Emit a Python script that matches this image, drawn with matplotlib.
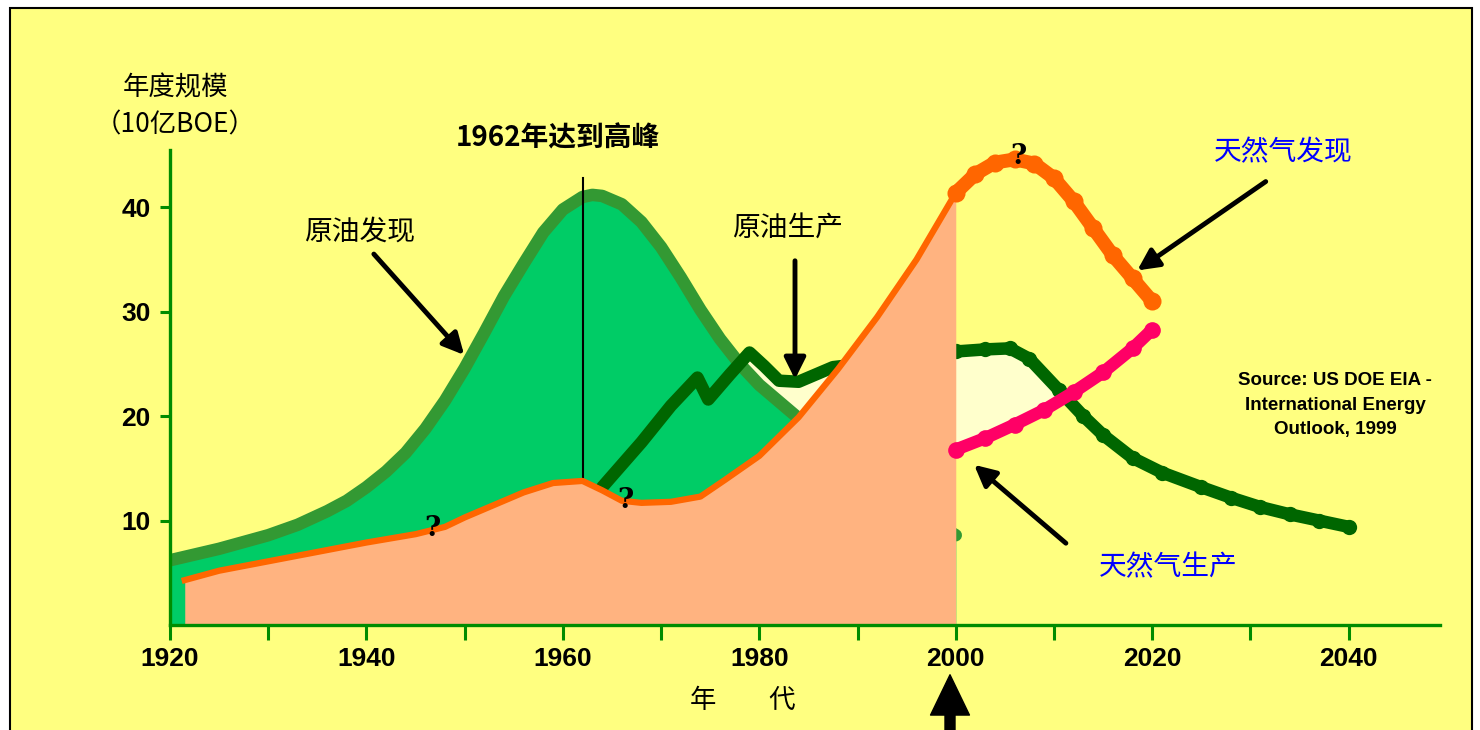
import numpy as np
import matplotlib.pyplot as plt
from matplotlib.patches import Rectangle

plt.rcParams['font.family'] = ['Noto Sans CJK SC', 'DejaVu Sans']

# 原油发现 (10亿BOE)
disc_years = [1920, 1925, 1930, 1933, 1936, 1938, 1940, 1942, 1944, 1946, 1948,
              1950, 1952, 1954, 1956, 1958, 1960, 1962, 1963, 1964, 1966, 1968,
              1970, 1972, 1974, 1976, 1978, 1980, 1984, 1988, 1992, 1996, 2000]
disc_vals = [6.2, 7.3, 8.6, 9.6, 10.9, 11.9, 13.2, 14.7, 16.5, 18.8, 21.5,
             24.6, 28.0, 31.5, 34.6, 37.6, 39.8, 41.0, 41.2, 41.1, 40.3, 38.6,
             36.2, 33.3, 30.2, 27.4, 25.0, 23.0, 19.8, 16.6, 13.8, 10.8, 8.6]

# 原油生产
prod_years = [1964, 1968, 1971, 1973.7, 1974.8, 1977, 1979, 1980.5, 1982, 1984,
              1987.5, 1992, 1996, 2000, 2003, 2005.5, 2007.5, 2010.5, 2013, 2015,
              2018, 2021, 2025, 2028, 2031, 2034, 2037, 2040]
prod_vals = [13.2, 17.5, 21.0, 23.7, 21.6, 24.0, 26.1, 24.8, 23.4, 23.3,
             24.7, 25.2, 25.8, 26.2, 26.4, 26.5, 25.5, 22.5, 20.0, 18.2,
             16.0, 14.6, 13.2, 12.2, 11.3, 10.6, 10.0, 9.4]

# 天然气发现
gasd_years = [1921.5, 1925, 1930, 1935, 1940, 1945, 1948, 1950, 1953, 1956, 1959,
              1962, 1964, 1966, 1968, 1971, 1974, 1976.5, 1980, 1984, 1988, 1992,
              1996, 2000, 2002, 2004, 2006, 2008, 2010, 2012, 2014, 2016, 2018, 2020]
gasd_vals = [4.3, 5.2, 6.1, 7.0, 7.9, 8.7, 9.4, 10.3, 11.5, 12.7, 13.6,
             13.8, 12.9, 11.9, 11.7, 11.8, 12.3, 13.9, 16.2, 19.9, 24.5, 29.5,
             35.0, 41.4, 43.2, 44.3, 44.6, 44.2, 42.8, 40.6, 38.0, 35.4, 33.2, 31.0]

# 天然气生产
gasp_years = [2000, 2003, 2006, 2009, 2012, 2015, 2018, 2020]
gasp_vals = [16.8, 17.9, 19.2, 20.6, 22.3, 24.2, 26.5, 28.3]

x_ticks = list(range(1920, 2041, 10))
x_labels = ['1920', '', '1940', '', '1960', '', '1980', '', '2000', '', '2020', '', '2040']
y_ticks = [10, 20, 30, 40]
peak_year = 1962

W, H = 1480, 730
AXIS_GREEN = '#008C00'
BOLD_LATIN = ['Liberation Sans', 'DejaVu Sans']


def at(px, py):
    return px / W, 1 - py / H


fig = plt.figure(figsize=(W / 100, H / 100), dpi=100)
fig.patch.set_facecolor('white')
fig.patches.append(Rectangle((10 / W, -0.05), 1462 / W, 1.05 - 8 / H,
                             transform=fig.transFigure, fc='#FFFF80',
                             ec='black', lw=1.5, zorder=-10))

ax = fig.add_axes([170 / W, 105 / H, 1270 / W, 475 / H])
ax.set_facecolor('none')
ax.set_xlim(1920, 2049.3)
ax.set_ylim(0, 45.5)

dy = np.array(disc_years)
dv = np.array(disc_vals)
px_ = np.array(prod_years)
pv = np.array(prod_vals)
gx = np.array(gasd_years)
gv = np.array(gasd_vals)
sx = np.array(gasp_years)
sv = np.array(gasp_vals)

# 原油生产与天然气生产之间的浅色区
low = np.where(px_ >= 2000, np.interp(px_, sx, sv), 0)
ax.fill_between(px_, low, pv, where=pv >= low, interpolate=True,
                color='#FFFFCC', lw=0, zorder=1)

# 原油发现
ax.fill_between(dy, 0, dv, color='#00CC66', lw=0, zorder=2)
ax.plot(dy, dv, color='#339933', lw=9, solid_capstyle='round',
        solid_joinstyle='round', zorder=2.5)

# 原油生产
ax.plot(px_, pv, color='#006600', lw=9, solid_capstyle='round',
        solid_joinstyle='round', zorder=3)
post = px_ >= 2000
ax.plot(px_[post], pv[post], 'o', color='#006600', ms=11, mew=0, zorder=3)

# 1962 高峰线
peak_gas = np.interp(peak_year, gx, gv)
ax.plot([peak_year, peak_year], [peak_gas, 42.8], color='black', lw=1.5, zorder=3.2)

# 天然气发现 (到2000年为已发现部分)
past = gx <= 2000
ax.fill_between(gx[past], 0, gv[past], color='#FFB380', lw=0, zorder=4)
ax.plot(gx[past], gv[past], color='#FF6600', lw=4.5, zorder=5)
fut = gx >= 2000
ax.plot(gx[fut], gv[fut], color='#FF6600', lw=10, solid_capstyle='round', zorder=5)
ax.plot(gx[fut], gv[fut], 'o', color='#FF6600', ms=13, mew=0, zorder=5)

# 天然气生产
ax.plot(sx, sv, color='#FF0066', lw=9, solid_capstyle='round', zorder=5)
ax.plot(sx, sv, 'o', color='#FF0066', ms=12, mew=0, zorder=5)

for side in ['top', 'right']:
    ax.spines[side].set_visible(False)
for side in ['left', 'bottom']:
    ax.spines[side].set_color(AXIS_GREEN)
    ax.spines[side].set_linewidth(2.4)
    ax.spines[side].set_zorder(10)

ax.set_xticks(x_ticks)
ax.set_xticklabels(x_labels, fontsize=19, fontweight='bold', family=BOLD_LATIN)
ax.set_yticks(y_ticks)
ax.set_yticklabels([str(v) for v in y_ticks], fontsize=19, fontweight='bold',
                   family=BOLD_LATIN)
ax.tick_params(axis='x', direction='out', length=11, width=2.2,
               color=AXIS_GREEN, pad=5)
ax.tick_params(axis='y', direction='out', length=7, width=2.2,
               color=AXIS_GREEN, pad=7)

# 文字
fig.text(*at(175, 88), '年度规模', fontsize=19, ha='center', va='center')
fig.text(*at(175, 125), '（10亿BOE）', fontsize=19, ha='center', va='center')
fig.text(*at(558, 138), '1962年达到高峰', fontsize=20, ha='center', va='center',
         fontweight='bold')
fig.text(*at(360, 232), '原油发现', fontsize=20, ha='center', va='center')
fig.text(*at(788, 228), '原油生产', fontsize=20, ha='center', va='center')
fig.text(*at(1283, 152), '天然气发现', fontsize=20, ha='center', va='center',
         color='#0000FF')
fig.text(*at(1168, 567), '天然气生产', fontsize=20, ha='center', va='center',
         color='#0000FF')
fig.text(*at(743, 700), '年\u3000\u3000代', fontsize=19, ha='center', va='center')
fig.text(*at(1335, 405), 'Source: US DOE EIA -\nInternational Energy\nOutlook, 1999',
         fontsize=13.5, ha='center', va='center', fontweight='bold',
         family=BOLD_LATIN, linespacing=1.55)
for qx, qy in [(432, 528), (625, 500), (1018, 157)]:
    fig.text(*at(qx, qy), '?', fontsize=20, ha='center', va='center',
             fontweight='bold', family=['DejaVu Serif'], zorder=20)

# 箭头
arrow = dict(arrowstyle='-|>', lw=3.5, color='black', mutation_scale=32)
for (x0, y0), (x1, y1) in [((372, 252), (466, 357)),
                           ((795, 258), (795, 382)),
                           ((1268, 180), (1135, 272)),
                           ((1068, 545), (972, 463))]:
    ax.annotate('', xy=(x1, H - y1), xycoords='figure pixels',
                xytext=(x0, H - y0), textcoords='figure pixels',
                arrowprops=arrow, annotation_clip=False, zorder=20)
ax.annotate('', xy=(950, H - 672), xycoords='figure pixels',
            xytext=(950, H - 770), textcoords='figure pixels',
            arrowprops=dict(arrowstyle='simple,head_width=1.4,head_length=1.45,tail_width=0.36',
                            color='black', mutation_scale=20),
            annotation_clip=False)

plt.savefig('out.png', dpi=100)
